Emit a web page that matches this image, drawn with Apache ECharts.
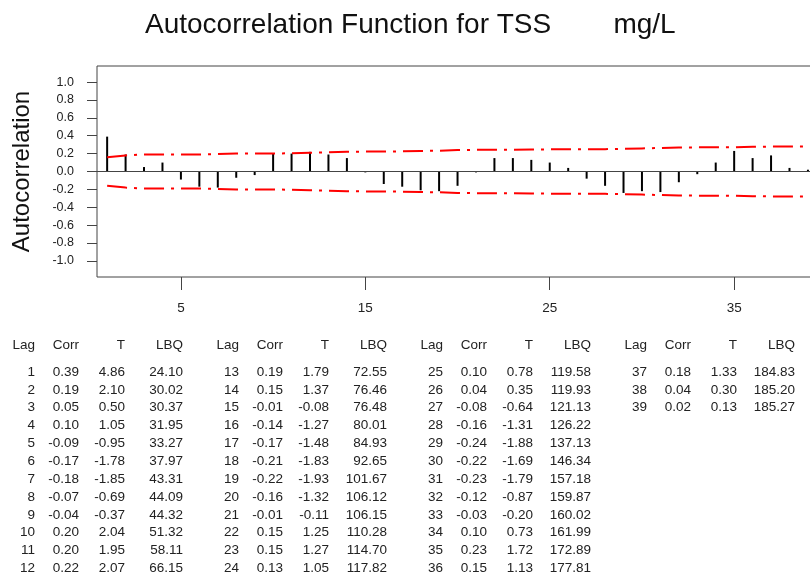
<!DOCTYPE html>
<html>
<head>
<meta charset="utf-8">
<script src="https://cdn.jsdelivr.net/npm/echarts@6/dist/echarts.min.js"></script>
<style>
  html, body { margin: 0; padding: 0; background: #fff; }
  #chart { width: 810px; height: 581px; }
</style>
</head>
<body>
<div id="chart"></div>
<script>
// ACF values for TSS mg/L
const lags = [1, 2, 3, 4, 5, 6, 7, 8, 9, 10, 11, 12, 13, 14, 15, 16, 17, 18, 19, 20,
  21, 22, 23, 24, 25, 26, 27, 28, 29, 30, 31, 32, 33, 34, 35, 36, 37, 38, 39]
const corr = [0.39, 0.19, 0.05, 0.10, -0.09, -0.17, -0.18, -0.07, -0.04, 0.20,
  0.20, 0.22, 0.19, 0.15, -0.01, -0.14, -0.17, -0.21, -0.22, -0.16,
  -0.01, 0.15, 0.15, 0.13, 0.10, 0.04, -0.08, -0.16, -0.24, -0.22,
  -0.23, -0.12, -0.03, 0.10, 0.23, 0.15, 0.18, 0.04, 0.02]
const tStat = [4.86, 2.10, 0.50, 1.05, -0.95, -1.78, -1.85, -0.69, -0.37, 2.04,
  1.95, 2.07, 1.79, 1.37, -0.08, -1.27, -1.48, -1.83, -1.93, -1.32,
  -0.11, 1.25, 1.27, 1.05, 0.78, 0.35, -0.64, -1.31, -1.88, -1.69,
  -1.79, -0.87, -0.20, 0.73, 1.72, 1.13, 1.33, 0.30, 0.13]
const lbq = [24.10, 30.02, 30.37, 31.95, 33.27, 37.97, 43.31, 44.09, 44.32, 51.32,
  58.11, 66.15, 72.55, 76.46, 76.48, 80.01, 84.93, 92.65, 101.67, 106.12,
  106.15, 110.28, 114.70, 117.82, 119.58, 119.93, 121.13, 126.22, 137.13, 146.34,
  157.18, 159.87, 160.02, 161.99, 172.89, 177.81, 184.83, 185.20, 185.27]
// upper significance limit
const limits = [0.16, 0.18, 0.19, 0.19, 0.19, 0.19, 0.195, 0.20, 0.20, 0.20,
  0.205, 0.21, 0.215, 0.22, 0.223, 0.223, 0.225, 0.23, 0.233, 0.24,
  0.242, 0.242, 0.244, 0.246, 0.248, 0.249, 0.249, 0.25, 0.253, 0.258,
  0.263, 0.268, 0.27, 0.27, 0.271, 0.276, 0.278, 0.281, 0.281]
const xTicks = [5, 15, 25, 35]
const yTicks = [-1.0, -0.8, -0.6, -0.4, -0.2, 0.0, 0.2, 0.4, 0.6, 0.8, 1.0]
const tableHeader = ['Lag', 'Corr', 'T', 'LBQ']

const font = 'Liberation Sans, Arial, sans-serif'
const chart = echarts.init(document.getElementById('chart'))

// table below the plot, 4 blocks of 12 rows
const colRight = [35, 79, 125, 183]
const blockWidth = 204
const tableText = []
for (let b = 0; b < 4; b++) {
  tableHeader.forEach((h, c) => {
    tableText.push({
      type: 'text', x: colRight[c] + b * blockWidth, y: 345,
      style: { text: h, fontSize: 13.5, fontFamily: font, fill: '#222', align: 'right', verticalAlign: 'middle' }
    })
  })
}
lags.forEach((lag, i) => {
  const b = Math.floor(i / 12)
  const row = i % 12
  const vals = [String(lag), corr[i].toFixed(2), tStat[i].toFixed(2), lbq[i].toFixed(2)]
  vals.forEach((v, c) => {
    tableText.push({
      type: 'text', x: colRight[c] + b * blockWidth, y: 372 + row * 17.85,
      style: { text: v, fontSize: 13.5, fontFamily: font, fill: '#222', align: 'right', verticalAlign: 'middle' }
    })
  })
})

const option = {
  animation: false,
  backgroundColor: '#fff',
  title: {
    text: 'Autocorrelation Function for TSS        mg/L',
    left: 145,
    top: 11,
    padding: 0,
    textStyle: { fontSize: 28, fontWeight: 'normal', fontFamily: font, color: '#111' }
  },
  grid: {
    show: true,
    left: 97,
    top: 66,
    width: 722,
    height: 211,
    outerBoundsMode: 'none',
    containLabel: false,
    borderColor: '#444',
    borderWidth: 1
  },
  xAxis: {
    type: 'value',
    min: 0.45,
    max: 39.6,
    axisLine: { show: false, onZero: false },
    splitLine: { show: false },
    axisTick: { show: true, customValues: xTicks, length: 13, lineStyle: { color: '#444', width: 1 } },
    axisLabel: { customValues: xTicks, margin: 24, fontSize: 13.5, fontFamily: font, color: '#222' }
  },
  yAxis: {
    type: 'value',
    min: -1.18,
    max: 1.18,
    name: 'Autocorrelation',
    nameLocation: 'middle',
    nameRotate: 90,
    nameGap: 63,
    nameTextStyle: { fontSize: 24, fontFamily: font, color: '#111' },
    axisLine: { show: false, onZero: false },
    splitLine: { show: false },
    axisTick: { show: true, customValues: yTicks, length: 10, lineStyle: { color: '#444', width: 1 } },
    axisLabel: {
      customValues: yTicks, margin: 23, fontSize: 12.5, fontFamily: font, color: '#222',
      formatter: v => v.toFixed(1)
    }
  },
  series: [
    {
      type: 'bar',
      barWidth: 2,
      itemStyle: { color: '#000' },
      data: lags.map((l, i) => [l, corr[i]]),
      markLine: {
        silent: true,
        symbol: 'none',
        label: { show: false },
        lineStyle: { color: '#444', width: 1, type: 'solid' },
        data: [{ yAxis: 0 }]
      }
    },
    {
      type: 'line',
      symbol: 'none',
      lineStyle: { color: '#ff0000', width: 2, type: [20, 7, 3, 7] },
      data: lags.map((l, i) => [l, limits[i]])
    },
    {
      type: 'line',
      symbol: 'none',
      lineStyle: { color: '#ff0000', width: 2, type: [20, 7, 3, 7] },
      data: lags.map((l, i) => [l, -limits[i]])
    }
  ],
  graphic: tableText
}

chart.setOption(option)
</script>
</body>
</html>
